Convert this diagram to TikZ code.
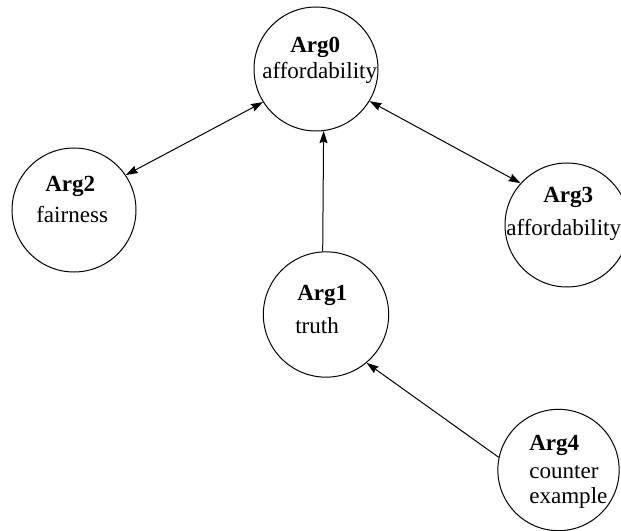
\documentclass[tikz,border=0pt]{standalone}
\usepackage{fontspec}
\setmainfont{Liberation Serif}
\usetikzlibrary{arrows.meta}
\begin{document}
\begin{tikzpicture}[x=0.75pt,y=-0.75pt,
  >={Stealth[length=9pt,width=6pt,inset=1pt]},
  argcircle/.style={circle,draw=black,line width=0.75pt,inner sep=0pt,minimum size=#1},
  argcircle/.default=93pt,
  lbl/.style={anchor=base west,inner sep=0pt,font=\fontsize{17.3}{20}\selectfont},
  hd/.style={lbl,font=\fontsize{17.3}{20}\selectfont\bfseries},
  conn/.style={line width=0.75pt,draw=black}]
\useasboundingbox (0,0) rectangle (621,531);
% circles
\node[argcircle=93pt] (Arg0) at (316,69) {};
\node[argcircle=93pt] (Arg2) at (74,210) {};
\node[argcircle=93pt] (Arg3) at (567,225) {};
\node[argcircle=94pt] (Arg1) at (326,314.5) {};
\node[argcircle=91pt] (Arg4) at (558.5,470) {};
% texts
\node[hd]  (t0a) at (290,53) {Arg0};
\node[lbl] (t0b) at (262,79) {affordability};
\node[hd]  (t2a) at (45,192) {Arg2};
\node[lbl] (t2b) at (36,223) {fairness};
\node[hd]  (t3a) at (543,203) {Arg3};
\node[lbl] (t3b) at (506,235) {affordability};
\node[hd]  (t1a) at (297,300) {Arg1};
\node[lbl] (t1b) at (295,333) {truth};
\node[hd]  (t4a) at (529,450) {Arg4};
\node[lbl] (t4b) at (529,478) {counter};
\node[lbl] (t4c) at (529,503) {example};
% connectors
\draw[conn,<->] (Arg2.34) -- (Arg0.212);
\draw[conn,<->] (Arg0.-31.4) -- (Arg3.138);
\draw[conn,->] (Arg1.93) -- (Arg0.-83.5);
\draw[conn,->] (Arg4.168) -- (Arg1.-50.5);
\end{tikzpicture}
\end{document}
